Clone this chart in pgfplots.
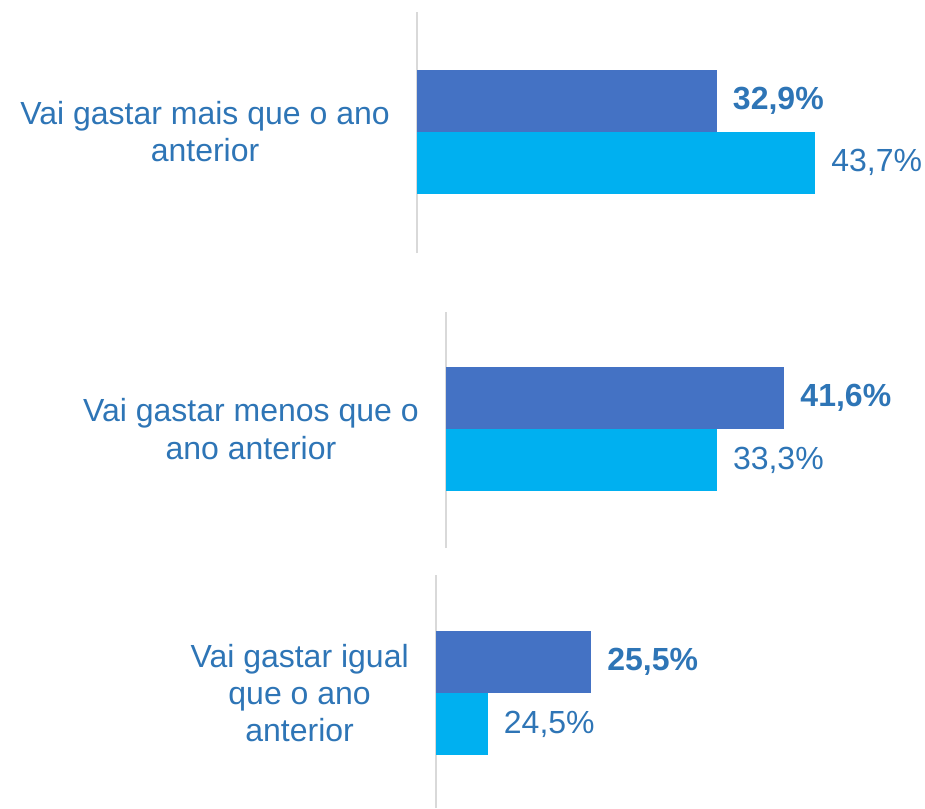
\documentclass[border=0pt]{standalone}
\usepackage{pgfplots}
\pgfplotsset{compat=1.18}
\usepackage{fontspec}
\setmainfont{Liberation Sans}
\definecolor{escuro}{HTML}{4472C4}
\definecolor{claro}{HTML}{00B0F0}
\definecolor{texto}{HTML}{2E75B6}
\definecolor{linha}{HTML}{D9D9D9}
\pgfplotsset{
  painel/.style={
    scale only axis, anchor=north west, y=0.75pt, xmin=0, xmax=50,
    axis x line=none, axis y line=left,
    axis line style={-, draw=linha, line width=1.5pt},
    ytick style={draw=none}, major tick length=0pt,
    yticklabel style={align=center, text=texto, font=\fontsize{24}{28}\selectfont,
      inner sep=0pt, xshift=-20.25pt},
    xbar, bar width=62, clip=false,
    nodes near coords, point meta=explicit symbolic,
    every node near coord/.append style={anchor=west, inner sep=0pt, xshift=12pt,
      text=texto, font=\fontsize{24}{28}\selectfont},
  },
  escuro/.style={fill=escuro, draw=none, bar shift=31,
    every node near coord/.append style={font=\bfseries\fontsize{24}{28}\selectfont}},
  claro/.style={fill=claro, draw=none, bar shift=-31},
}
\begin{document}
\begin{tikzpicture}
\path[use as bounding box] (0,0) rectangle (693.75pt,-606pt);

% painel 1
\begin{axis}[painel, at={(417*0.75pt,-12*0.75pt)}, x=6.8325pt,
  ymin=-253, ymax=-12, ytick={-131.5},
  yticklabels={{Vai gastar mais que o ano\\anterior}}]
\addplot[escuro] coordinates {(32.9,-131.5) [32,9\%]};
\addplot[claro] coordinates {(43.7,-131.5) [43,7\%]};
\end{axis}

% painel 2
\begin{axis}[painel, at={(446*0.75pt,-312*0.75pt)}, x=6.0975pt,
  ymin=-548, ymax=-312, ytick={-429},
  yticklabels={{Vai gastar menos que o\\ano anterior}}]
\addplot[escuro] coordinates {(41.6,-429) [41,6\%]};
\addplot[claro] coordinates {(33.3,-429) [33,3\%]};
\end{axis}

% painel 3
\begin{axis}[painel, at={(436*0.75pt,-575*0.75pt)}, x=4.56pt,
  ymin=-808, ymax=-575, ytick={-693},
  yticklabels={{Vai gastar igual\\que o ano\\anterior}}]
\addplot[escuro] coordinates {(25.5,-693) [25,5\%]};
\addplot[claro] coordinates {(8.5,-693) [24,5\%]};
\end{axis}
\end{tikzpicture}
\end{document}
